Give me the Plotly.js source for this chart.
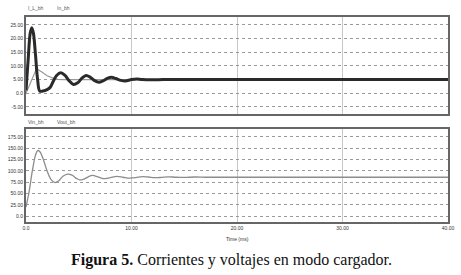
<!DOCTYPE html>
<html><head><meta charset="utf-8">
<script src="https://cdn.plot.ly/plotly-3.0.1.min.js"></script>
<style>html,body{margin:0;padding:0;background:#fff}#c{width:461px;height:275px}</style>
</head><body><div id="c"></div>
<script>
// Top panel: currents
const tIL = [0,0.2,0.4,0.55,0.7,0.9,1.1,1.3,1.6,2.0,2.3,2.6,2.9,3.3,3.7,4.1,4.5,4.9,5.3,5.7,6.1,6.5,6.9,7.3,7.7,8.1,8.5,9.0,9.4,10.0,10.5,11,12,13,14,15,40];
const IL  = [1,12,22,24,22,14,5,0.8,0.8,1.3,2.2,4.5,6.5,7.5,6.5,4.5,3.2,3.8,5.5,6.5,5.8,4.6,4.0,4.5,5.4,5.8,5.4,4.7,4.5,5.0,5.2,5.0,4.9,5.0,5.0,5.0,5.0];
const tIn = [0,0.5,1.0,1.5,2.0,2.5,3.0,3.5,4.0,40];
const In  = [0,4.5,9,7.8,6.4,5.6,5.1,5.0,5.0,5.0];
// Bottom panel: voltages
const tV = [0,0.3,0.6,0.9,1.1,1.3,1.6,2.0,2.4,2.75,3.1,3.5,3.95,4.4,4.8,5.1,5.5,5.9,6.3,6.8,7.3,7.5,8.0,8.6,9.2,9.8,10.4,11.0,11.6,12.2,12.8,13.5,14.2,15,16,17,18,40];
const V  = [20,55,100,135,145,143,128,100,80,74,78,88,93,90,83,80,82,87,90,87,83,83,85,88,86,84,85,87.5,86.5,85,85.5,87,86,85.5,86.5,86,86,86];
// Tick labels
const xTicks = [0,10,20,30,40];
const xTickText = ['0.0','10.00','20.00','30.00','40.00'];
const yTopTicks = [-5,0,5,10,15,20,25];
const yTopText = ['-5.00','0.0','5.00','10.00','15.00','20.00','25.00'];
const yBotTicks = [0,25,50,75,100,125,150,175];
const yBotText = ['0.0','25.00','50.00','75.00','100.00','125.00','150.00','175.00'];

const tickFont = {family:'Arial, Liberation Sans', size:5, color:'#333'};
const frame = {showline:true, mirror:true, linecolor:'#666', linewidth:2, zeroline:false, ticks:'', fixedrange:true};

const data = [
  {x:tIn, y:In, xaxis:'x2', yaxis:'y2', mode:'lines', line:{color:'#999', width:1.2}},
  {x:tIL, y:IL, xaxis:'x2', yaxis:'y2', mode:'lines', line:{color:'#2a2a2a', width:3, shape:'spline'}},
  {x:tV, y:V, xaxis:'x', yaxis:'y', mode:'lines', line:{color:'#8c8c8c', width:1.3, shape:'spline'}}
];

const layout = {
  width:461, height:275, showlegend:false,
  paper_bgcolor:'#fff', plot_bgcolor:'#fff',
  margin:{l:26, r:13, t:17, b:53},
  xaxis: Object.assign({}, frame, {anchor:'y', range:[0,40], tickvals:xTicks, ticktext:xTickText, tickfont:tickFont,
          showgrid:true, gridcolor:'#c8c8c8', gridwidth:1}),
  xaxis2: Object.assign({}, frame, {anchor:'y2', matches:'x', range:[0,40], tickvals:xTicks, showticklabels:false,
          showgrid:true, gridcolor:'#c8c8c8', gridwidth:1}),
  yaxis: Object.assign({}, frame, {domain:[0,0.4537], range:[-13,192.7], tickvals:yBotTicks, ticktext:yBotText, tickfont:tickFont,
          showgrid:true, gridcolor:'#9a9a9a', griddash:'dot', gridwidth:1}),
  yaxis2: Object.assign({}, frame, {domain:[0.527,1], range:[-7.6,27.9], tickvals:yTopTicks, ticktext:yTopText, tickfont:tickFont,
          showgrid:true, gridcolor:'#9a9a9a', griddash:'dot', gridwidth:1}),
  annotations:[
    {xref:'paper', yref:'paper', x:0, y:1.02, xanchor:'left', yanchor:'bottom', text:'I_L_bh', showarrow:false, font:{family:'Arial', size:5, color:'#555'}},
    {xref:'paper', yref:'paper', x:0.069, y:1.02, xanchor:'left', yanchor:'bottom', text:'In_bh', showarrow:false, font:{family:'Arial', size:5, color:'#555'}},
    {xref:'paper', yref:'paper', x:0, y:0.465, xanchor:'left', yanchor:'bottom', text:'Vin_bh', showarrow:false, font:{family:'Arial', size:5, color:'#555'}},
    {xref:'paper', yref:'paper', x:0.069, y:0.465, xanchor:'left', yanchor:'bottom', text:'Vout_bh', showarrow:false, font:{family:'Arial', size:5, color:'#555'}},
    {xref:'x', yref:'paper', x:20, y:-0.06, xanchor:'center', yanchor:'top', text:'Time (ms)', showarrow:false, font:{family:'Arial', size:5, color:'#333'}},
    {xref:'paper', yref:'paper', x:0.488, y:-0.185, xanchor:'center', yanchor:'middle', showarrow:false,
     text:'<b>Figura 5.</b> Corrientes y voltajes en modo cargador.', font:{family:'Liberation Serif, Times New Roman, serif', size:16, color:'#111'}}
  ]
};
Plotly.newPlot('c', data, layout, {staticPlot:true, displayModeBar:false});
</script>
</body></html>
